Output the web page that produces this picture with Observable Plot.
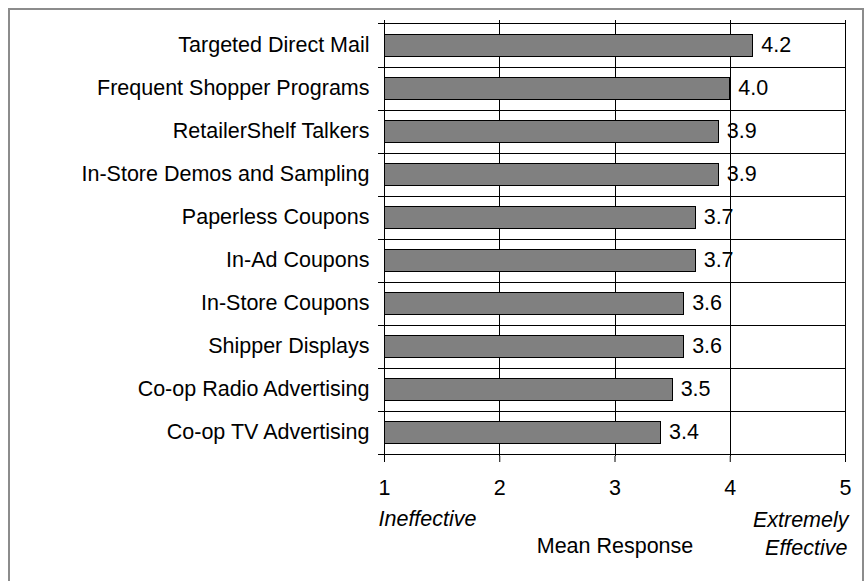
<!DOCTYPE html>
<html>
<head>
<meta charset="utf-8">
<script src="https://cdn.jsdelivr.net/npm/d3@7"></script>
<script src="https://cdn.jsdelivr.net/npm/@observablehq/plot@0.6"></script>
<style>
  html, body { margin: 0; padding: 0; background: #fff; }
  #wrap { position: relative; width: 866px; height: 581px; overflow: hidden; background: #fff; }
  #border { position: absolute; left: 8px; top: 8px; width: 856px; height: 700px; box-sizing: border-box; border: 2px solid #8c8c8c; }
  #chart { position: absolute; left: 0; top: 0; }
</style>
</head>
<body>
<div id="wrap"><div id="border"></div><div id="chart"></div></div>
<script>
const categories = [
  "Targeted Direct Mail",
  "Frequent Shopper Programs",
  "RetailerShelf Talkers",
  "In-Store Demos and Sampling",
  "Paperless Coupons",
  "In-Ad Coupons",
  "In-Store Coupons",
  "Shipper Displays",
  "Co-op Radio Advertising",
  "Co-op TV Advertising"
];
const values = [4.2, 4.0, 3.9, 3.9, 3.7, 3.7, 3.6, 3.6, 3.5, 3.4];
const xTicks = [1, 2, 3, 4, 5];
const xLabel = "Mean Response";
const lowLabel = "Ineffective";
const highLabel = ["Extremely", "Effective"];

const data = categories.map((c, i) => ({category: c, value: values[i]}));

const W = 866, H = 581, mT = 20, mB = 125, mL = 384, mR = 21;
const step = (H - mT - mB) / categories.length;
const font = "'Liberation Sans', Arial, sans-serif";
const fs = 21.5;

const chart = Plot.plot({
  width: W,
  height: H,
  marginLeft: mL,
  marginRight: mR,
  marginTop: mT,
  marginBottom: mB,
  style: {fontFamily: font, fontSize: fs + "px", color: "black", background: "transparent", overflow: "visible"},
  x: {domain: [xTicks[0], xTicks[xTicks.length - 1]], ticks: xTicks, tickSize: 6, tickPadding: 17, tickFormat: d => String(d), label: null},
  y: {domain: categories, paddingInner: 0.5, paddingOuter: 0.25, tickSize: 0, tickPadding: 15, label: null},
  marks: [
    Plot.ruleX(xTicks.slice(1), {stroke: "black", strokeWidth: 1, shapeRendering: "crispEdges"}),
    Plot.ruleY(categories, {y: d => d, dy: step / 2, insetLeft: -6, stroke: "black", shapeRendering: "crispEdges"}),
    Plot.ruleY(categories.slice(0, 1), {y: d => d, dy: -step / 2, insetLeft: -6, stroke: "black", shapeRendering: "crispEdges"}),
    Plot.barX(data, {x1: xTicks[0], x2: "value", y: "category", fill: "#808080", stroke: "black", strokeWidth: 1, shapeRendering: "crispEdges"}),
    Plot.ruleX(xTicks.slice(0, 1), {stroke: "black", strokeWidth: 1, shapeRendering: "crispEdges"}),
    Plot.text(data, {x: "value", y: "category", text: d => d.value.toFixed(1), textAnchor: "start", dx: 8, fontSize: fs, fill: "black"}),
    Plot.text([lowLabel], {x: xTicks[0], frameAnchor: "bottom", lineAnchor: "middle", text: d => d, textAnchor: "start", dx: -6, dy: 63, fontSize: fs, fontStyle: "italic", fill: "black"}),
    Plot.text([highLabel[0]], {x: xTicks[xTicks.length - 1], frameAnchor: "bottom", lineAnchor: "middle", text: d => d, textAnchor: "end", dx: 3, dy: 64, fontSize: fs, fontStyle: "italic", fill: "black"}),
    Plot.text([highLabel[1]], {x: xTicks[xTicks.length - 1], frameAnchor: "bottom", lineAnchor: "middle", text: d => d, textAnchor: "end", dx: 2, dy: 92, fontSize: fs, fontStyle: "italic", fill: "black"}),
    Plot.text([xLabel], {x: (xTicks[0] + xTicks[xTicks.length - 1]) / 2, frameAnchor: "bottom", lineAnchor: "middle", text: d => d, textAnchor: "middle", dy: 89.5, fontSize: fs, fill: "black"})
  ]
});
document.getElementById("chart").appendChild(chart);
</script>
</body>
</html>
